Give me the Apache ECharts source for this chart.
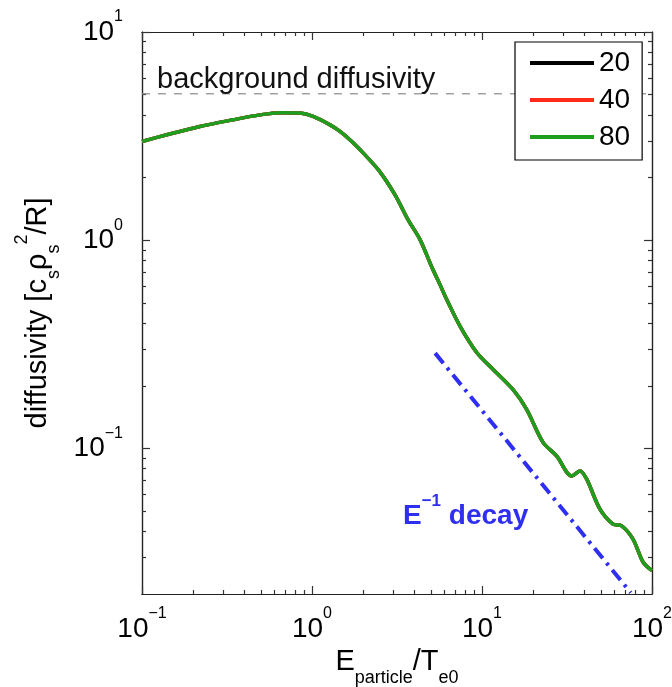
<!DOCTYPE html>
<html><head><meta charset="utf-8">
<script src="https://cdn.jsdelivr.net/npm/echarts@6/dist/echarts.min.js"></script>
<style>html,body{margin:0;padding:0;background:#fff}#c{width:672px;height:687px}</style>
</head><body><div id="c"></div>
<script>
// ---- data ----
const energy = [0.1, 0.14, 0.219, 0.344, 0.494, 0.649, 0.85, 1.014, 1.276, 1.461, 1.72, 2.05, 2.51, 3.08, 3.67, 4.32, 5.08, 5.66, 6.2, 7.42, 9.31, 11.6, 15.2, 18.3, 22.85, 27.5, 33.7, 37.7, 41.3, 49.4, 59.0, 66.3, 77.3, 88.5, 100];
const diff20 = [2.98, 3.21, 3.52, 3.79, 4.0, 4.10, 4.08, 3.93, 3.58, 3.33, 2.97, 2.57, 2.13, 1.65, 1.255, 1.007, 0.739, 0.612, 0.519, 0.387, 0.289, 0.240, 0.192, 0.154, 0.107, 0.092, 0.0738, 0.078, 0.0712, 0.0511, 0.0433, 0.0425, 0.0367, 0.0285, 0.0259];
const diff40 = [2.98, 3.21, 3.52, 3.79, 4.0, 4.10, 4.08, 3.93, 3.58, 3.33, 2.97, 2.57, 2.13, 1.65, 1.255, 1.007, 0.739, 0.612, 0.519, 0.387, 0.289, 0.240, 0.192, 0.154, 0.107, 0.092, 0.0738, 0.078, 0.0712, 0.0511, 0.0433, 0.0425, 0.0367, 0.0285, 0.0259];
const diff80 = [2.98, 3.21, 3.52, 3.79, 4.0, 4.10, 4.08, 3.93, 3.58, 3.33, 2.97, 2.57, 2.13, 1.65, 1.255, 1.007, 0.739, 0.612, 0.519, 0.387, 0.289, 0.240, 0.192, 0.154, 0.107, 0.092, 0.0738, 0.078, 0.0712, 0.0511, 0.0433, 0.0425, 0.0367, 0.0285, 0.0259];
const seriesNames = ['20', '40', '80'];
const decayE = [5.3, 75];
const decayD = [0.287, 0.0203];
const backgroundE = [0.1, 100];
const backgroundD = [5.05, 5.05];
const xMajorTicks = [0.1, 1, 10, 100];
const yMajorTicks = [0.1, 1, 10];
const xRange = [0.1, 100];
const yRange = [0.02, 10];

// ---- helpers ----
function minorTicks(lo, hi) {
  const out = [];
  for (let d = Math.floor(Math.log10(lo)); d < Math.ceil(Math.log10(hi)); d++) {
    for (let m = 2; m <= 9; m++) {
      const v = +(m * Math.pow(10, d)).toPrecision(6);
      if (v > lo && v < hi) out.push(v);
    }
  }
  return out;
}
const xMinor = minorTicks(xRange[0], xRange[1]);
const yMinor = minorTicks(yRange[0], yRange[1]);

const FONT = '"Liberation Sans", Arial, Helvetica, sans-serif';
const AX = '#222';
const TICK = '#333';
const supRich = {
  b: { fontSize: 28, lineHeight: 46, fontFamily: FONT, color: '#000' },
  e: { fontSize: 16, lineHeight: 16, verticalAlign: 'top', fontFamily: FONT, color: '#000' }
};
function powLabel(v) {
  const e = Math.round(Math.log10(v));
  return '{b|10}{e|' + (e < 0 ? '\u2212' + (-e) : e) + '}';
}

function makeX(pos, ticks, len, withLabels) {
  const a = {
    type: 'log', logBase: 10, min: xRange[0], max: xRange[1], position: pos,
    axisLine: { show: true, onZero: false, lineStyle: { color: AX, width: 1.2 } },
    axisTick: { show: true, inside: true, length: len, customValues: ticks, lineStyle: { color: TICK, width: 1.2 } },
    axisLabel: { show: false },
    splitLine: { show: false }
  };
  if (withLabels) {
    a.axisLabel = { show: true, customValues: xMajorTicks, margin: 12, formatter: powLabel, rich: supRich };
    a.name = '{m|E}{s|particle}{m|/T}{s|e0}';
    a.nameLocation = 'middle';
    a.nameGap = 34;
    a.nameTextStyle = {
      rich: {
        m: { fontSize: 29, lineHeight: 50, fontFamily: FONT, color: '#000' },
        s: { fontSize: 18, lineHeight: 18, verticalAlign: 'bottom', fontFamily: FONT, color: '#000' }
      }
    };
  }
  return a;
}
function makeY(pos, ticks, len, withLabels) {
  const a = {
    type: 'log', logBase: 10, min: yRange[0], max: yRange[1], position: pos,
    axisLine: { show: true, onZero: false, lineStyle: { color: AX, width: 1.2 } },
    axisTick: { show: true, inside: true, length: len, customValues: ticks, lineStyle: { color: TICK, width: 1.2 } },
    axisLabel: { show: false },
    splitLine: { show: false }
  };
  if (withLabels) {
    a.axisLabel = { show: true, customValues: yMajorTicks, margin: 19, formatter: powLabel, rich: supRich };
    a.name = '{m|diffusivity [c}{s|s}{m|\u03C1}{s|s}{p|2}{m|/R]}';
    a.nameLocation = 'middle';
    a.nameRotate = 90;
    a.nameGap = 75;
    a.nameTextStyle = {
      rich: {
        m: { fontSize: 29, lineHeight: 50, fontFamily: FONT, color: '#000' },
        s: { fontSize: 18, lineHeight: 18, verticalAlign: 'bottom', fontFamily: FONT, color: '#000' },
        p: { fontSize: 18, lineHeight: 18, verticalAlign: 'top', fontFamily: FONT, color: '#000' }
      }
    };
  }
  return a;
}

const pairs = (xs, ys) => xs.map((x, i) => [x, ys[i]]);
const colors = ['#000000', '#ff2a1a', '#1e9e1e'];
const values = [diff20, diff40, diff80];

const chart = echarts.init(document.getElementById('c'), null, { renderer: 'canvas' });
chart.setOption({
  animation: false,
  backgroundColor: '#fff',
  grid: { left: 142, top: 32, width: 510, height: 562, outerBoundsMode: 'none' },
  xAxis: [
    makeX('bottom', xMajorTicks, 8, true),
    makeX('bottom', xMinor, 4, false),
    makeX('top', xMajorTicks, 8, false),
    makeX('top', xMinor, 4, false)
  ],
  yAxis: [
    makeY('left', yMajorTicks, 8, true),
    makeY('left', yMinor, 4, false),
    makeY('right', yMajorTicks, 8, false),
    makeY('right', yMinor, 4, false)
  ],
  legend: {
    data: seriesNames,
    orient: 'vertical',
    left: 515, top: 42,
    icon: 'rect', itemWidth: 64, itemHeight: 4, itemGap: 7,
    padding: [6, 12, 8, 15],
    backgroundColor: '#fff', borderColor: '#000', borderWidth: 1.2, borderRadius: 0,
    textStyle: { fontSize: 28, lineHeight: 30, fontFamily: FONT, color: '#000' },
    z: 10
  },
  series: [
    {
      name: 'background', type: 'line', data: pairs(backgroundE, backgroundD), symbol: 'none',
      lineStyle: { color: '#8a8a8a', width: 1.2, type: [8, 8] }, silent: true, z: 1
    },
    {
      name: 'decay', type: 'line', data: pairs(decayE, decayD), symbol: 'none',
      lineStyle: { color: '#2f2ff2', width: 4, type: [13, 6, 3, 6] }, silent: true, z: 2
    }
  ].concat(seriesNames.map((n, i) => ({
    name: n, type: 'line', data: pairs(energy, values[i]), smooth: 0.3, symbol: 'none',
    lineStyle: { color: colors[i], width: 3.5 }, itemStyle: { color: colors[i] }, z: 3 + i
  }))),
  graphic: [
    {
      type: 'text', left: 157, top: 65, z: 5,
      style: { text: 'background diffusivity', font: '29px ' + FONT, fill: '#111' }
    },
    {
      type: 'text', left: 403, top: 493, z: 5,
      style: {
        text: '{m|E}{s|\u22121}{m| decay}',
        rich: {
          m: { fontSize: 28, lineHeight: 46, fontWeight: 'bold', fontFamily: FONT, fill: '#2f2ff2', color: '#2f2ff2' },
          s: { fontSize: 17, lineHeight: 17, verticalAlign: 'top', fontWeight: 'bold', fontFamily: FONT, fill: '#2f2ff2', color: '#2f2ff2' }
        }
      }
    }
  ]
});
</script></body></html>
